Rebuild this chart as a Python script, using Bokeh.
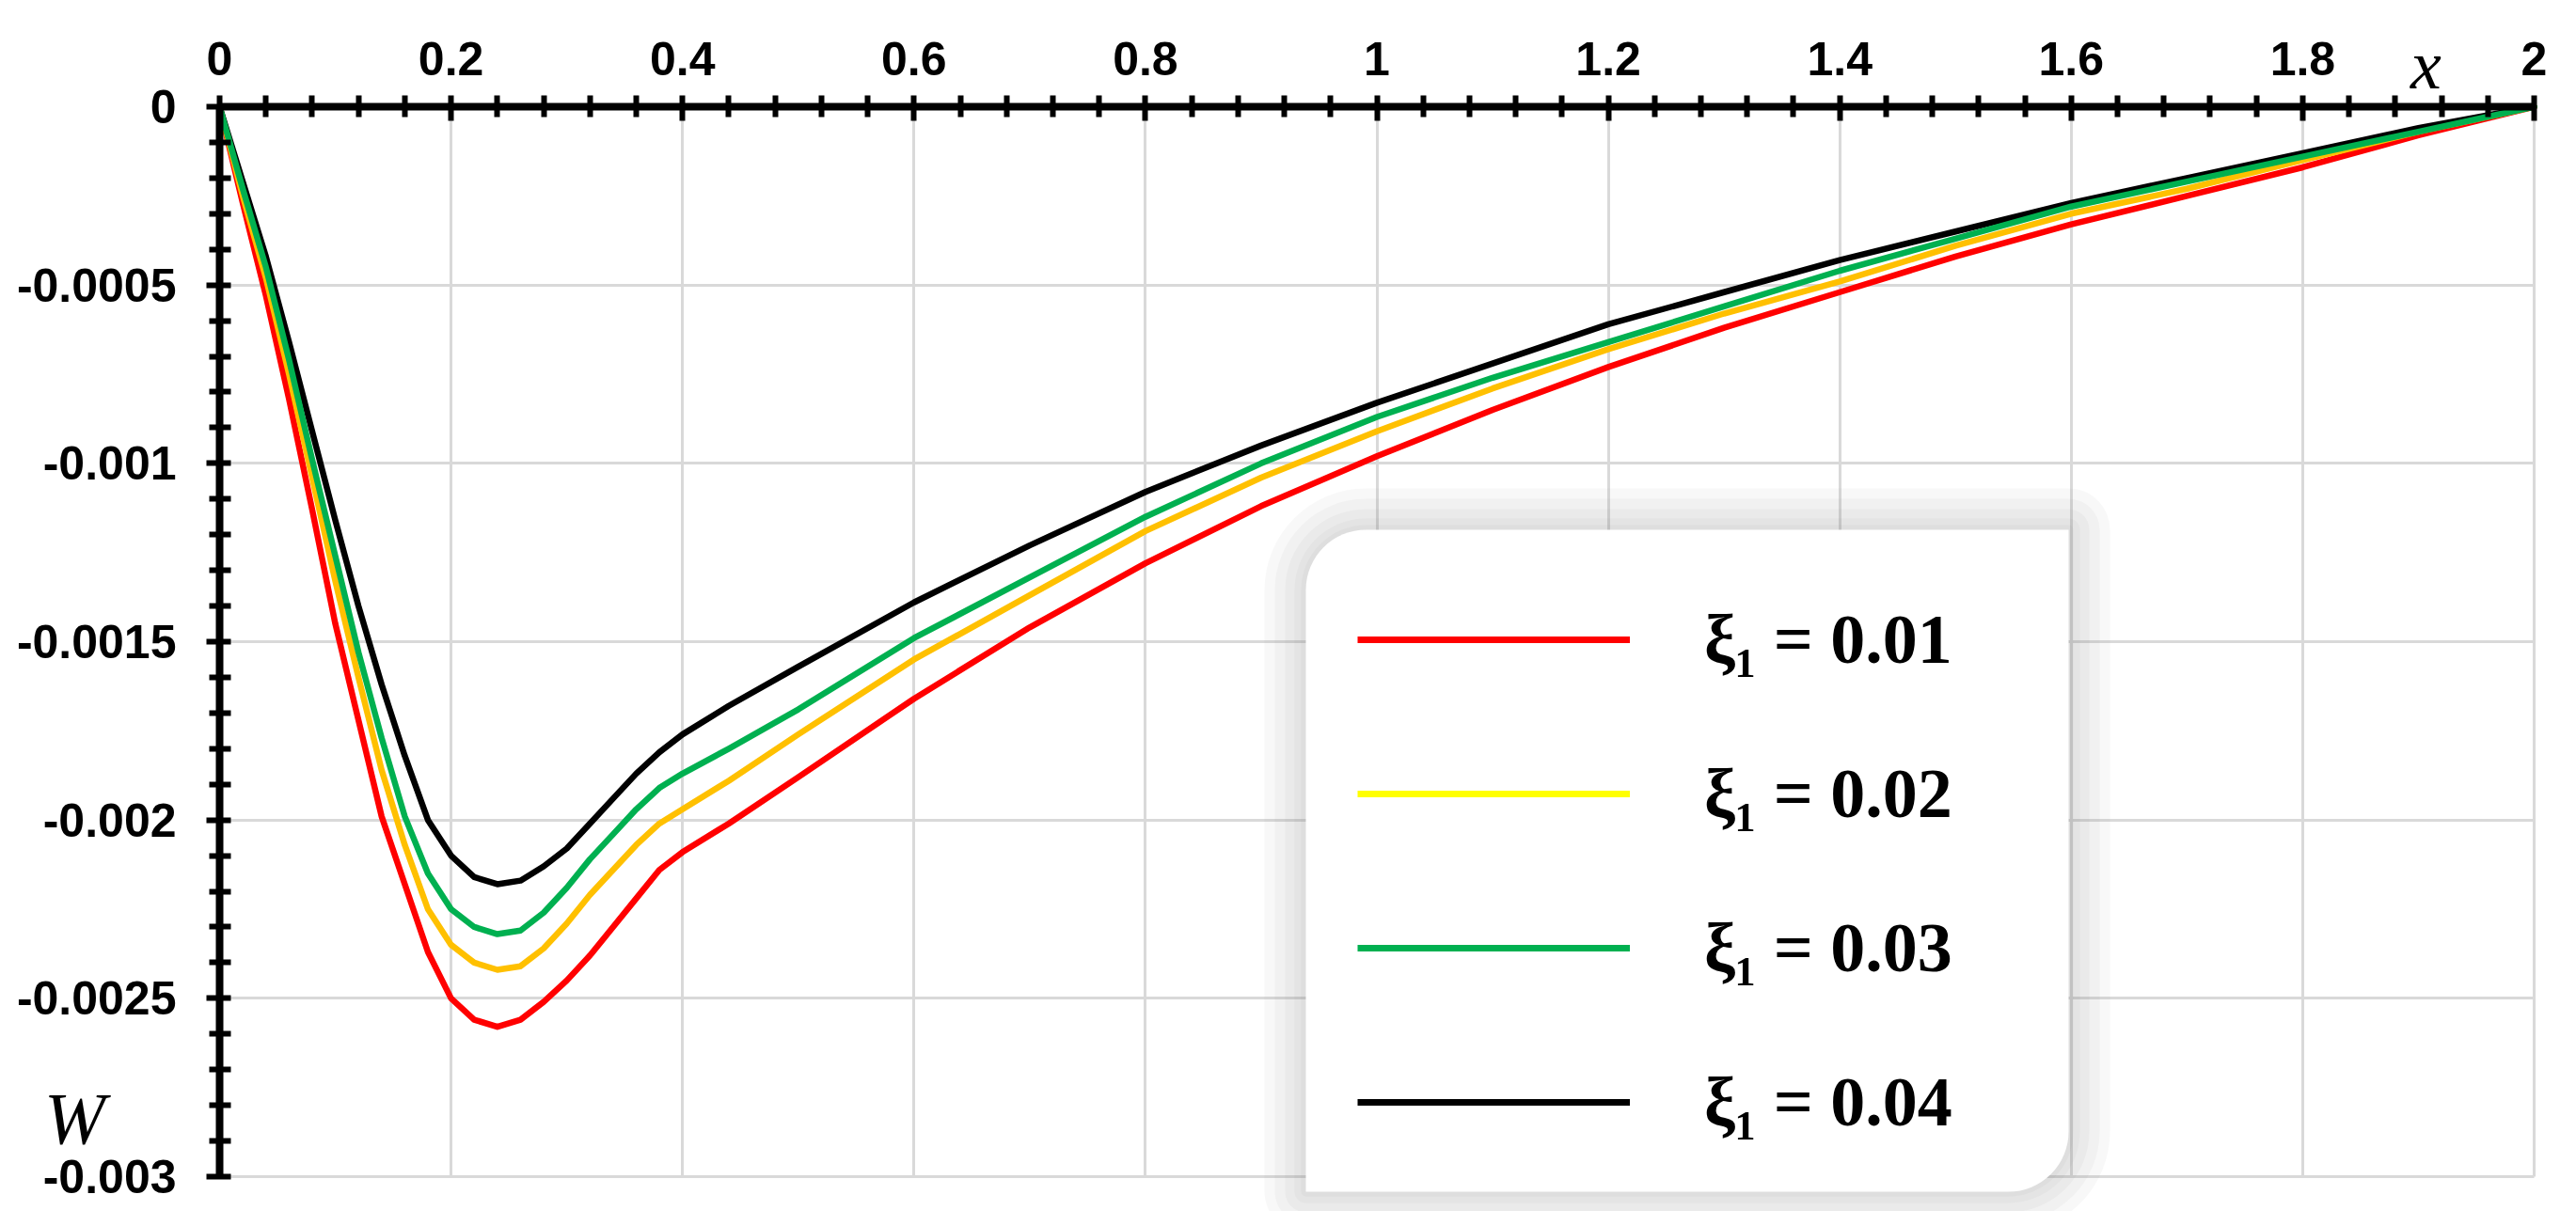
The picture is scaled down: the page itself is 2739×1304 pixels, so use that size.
from bokeh.plotting import figure
from bokeh.models import FixedTicker, Legend, LegendItem, Label, BoxAnnotation
from bokeh.embed import file_html
from bokeh.resources import INLINE

# ---------------- data ----------------
x_vals = [0, 0.02, 0.04, 0.06, 0.08, 0.10, 0.12, 0.14, 0.16, 0.18, 0.20,
          0.22, 0.24, 0.26, 0.28, 0.30, 0.32, 0.34, 0.36, 0.38, 0.40,
          0.44, 0.50, 0.60, 0.70, 0.80, 0.90, 1.00, 1.10, 1.20, 1.30,
          1.40, 1.50, 1.60, 1.70, 1.80, 1.90, 2.00]

w_xi_001 = [0, -0.00027, -0.00053, -0.00082, -0.00113, -0.00145, -0.00172, -0.00199, -0.00218, -0.00237, -0.00250,
            -0.00256, -0.00258, -0.00256, -0.00251, -0.00245, -0.00238, -0.00230, -0.00222, -0.00214, -0.00209,
            -0.00201, -0.00188, -0.00166, -0.00146, -0.00128, -0.00112, -0.00098, -0.00085, -0.00073, -0.00062,
            -0.00052, -0.00042, -0.00033, -0.00025, -0.00017, -0.00008, 0]

w_xi_002 = [0, -0.00025, -0.00048, -0.00075, -0.00104, -0.00133, -0.00160, -0.00186, -0.00207, -0.00225, -0.00235,
            -0.00240, -0.00242, -0.00241, -0.00236, -0.00229, -0.00221, -0.00214, -0.00207, -0.00201, -0.00197,
            -0.00189, -0.00176, -0.00155, -0.00137, -0.00119, -0.00104, -0.00091, -0.00079, -0.00068, -0.00058,
            -0.00049, -0.00039, -0.00030, -0.00023, -0.00015, -0.00007, 0]

w_xi_003 = [0, -0.00023, -0.00045, -0.00071, -0.00099, -0.00126, -0.00153, -0.00177, -0.00199, -0.00215, -0.00225,
            -0.00230, -0.00232, -0.00231, -0.00226, -0.00219, -0.00211, -0.00204, -0.00197, -0.00191, -0.00187,
            -0.00180, -0.00169, -0.00149, -0.00132, -0.00115, -0.00100, -0.00087, -0.00076, -0.00066, -0.00056,
            -0.00046, -0.00037, -0.00028, -0.00021, -0.00014, -0.00007, 0]

w_xi_004 = [0, -0.00021, -0.00042, -0.00066, -0.00091, -0.00116, -0.00140, -0.00162, -0.00182, -0.00200, -0.00210,
            -0.00216, -0.00218, -0.00217, -0.00213, -0.00208, -0.00201, -0.00194, -0.00187, -0.00181, -0.00176,
            -0.00168, -0.00157, -0.00139, -0.00123, -0.00108, -0.00095, -0.00083, -0.00072, -0.00061, -0.00052,
            -0.00043, -0.00035, -0.00027, -0.00020, -0.00013, -0.00006, 0]

series_labels = ["ξ₁ = 0.01", "ξ₁ = 0.02", "ξ₁ = 0.03", "ξ₁ = 0.04"]

x_ticks = [0, 0.2, 0.4, 0.6, 0.8, 1, 1.2, 1.4, 1.6, 1.8, 2]
x_tick_labels = ["0", "0.2", "0.4", "0.6", "0.8", "1", "1.2", "1.4", "1.6", "1.8", "2"]
x_minor = [0.04, 0.08, 0.12, 0.16, 0.24, 0.28, 0.32, 0.36, 0.44, 0.48, 0.52, 0.56,
           0.64, 0.68, 0.72, 0.76, 0.84, 0.88, 0.92, 0.96, 1.04, 1.08, 1.12, 1.16,
           1.24, 1.28, 1.32, 1.36, 1.44, 1.48, 1.52, 1.56, 1.64, 1.68, 1.72, 1.76,
           1.84, 1.88, 1.92, 1.96]
y_ticks = [0, -0.0005, -0.001, -0.0015, -0.002, -0.0025, -0.003]
y_tick_labels = ["0", "-0.0005", "-0.001", "-0.0015", "-0.002", "-0.0025", "-0.003"]
y_minor = [-0.0001, -0.0002, -0.0003, -0.0004, -0.0006, -0.0007, -0.0008, -0.0009,
           -0.0011, -0.0012, -0.0013, -0.0014, -0.0016, -0.0017, -0.0018, -0.0019,
           -0.0021, -0.0022, -0.0023, -0.0024, -0.0026, -0.0027, -0.0028, -0.0029]

x_axis_bounds = (0, 2)
y_axis_bounds = (-0.003, 0)

# ---------------- styles / layout ----------------
plot_colors = ["#FF0000", "#FFC000", "#00B050", "#000000"]
legend_colors = ["#FF0000", "#FFFF00", "#00B050", "#000000"]
tick_font = "Liberation Sans"
math_font = "Liberation Serif"

FIG_W, FIG_H = 2723, 1288
X0_PX, XSPAN_PX = 233, 2461     # where x=0 sits, and the pixel length of x 0..2
Y0_PX, YSPAN_PX = 113, 1138     # where w=0 sits, and the pixel length of w 0..-0.003
xs_per_px = (x_axis_bounds[1] - x_axis_bounds[0]) / XSPAN_PX
ys_per_px = (y_axis_bounds[1] - y_axis_bounds[0]) / YSPAN_PX
x_start = -X0_PX * xs_per_px
x_end = (FIG_W - X0_PX) * xs_per_px
y_end = Y0_PX * ys_per_px
y_start = -(FIG_H - Y0_PX) * ys_per_px


def px_x(sx):
    """screen x (page pixels) -> data x"""
    return (sx - 8 - X0_PX) * xs_per_px


def px_y(sy):
    """screen y (page pixels) -> data y"""
    return -(sy - 8 - Y0_PX) * ys_per_px


p = figure(width=FIG_W, height=FIG_H, x_range=(x_start, x_end), y_range=(y_start, y_end),
           x_axis_location="above", output_backend="svg", toolbar_location=None,
           min_border=0, min_border_left=0, min_border_right=0,
           min_border_top=0, min_border_bottom=0)
p.background_fill_color = "white"
p.border_fill_color = "white"
p.outline_line_color = None

xt = FixedTicker(ticks=x_ticks, minor_ticks=x_minor)
yt = FixedTicker(ticks=y_ticks, minor_ticks=y_minor)
p.xaxis.ticker = xt
p.yaxis.ticker = yt
p.xgrid.ticker = xt
p.ygrid.ticker = yt
p.xaxis.major_label_overrides = dict(zip(x_ticks, x_tick_labels))
p.yaxis.major_label_overrides = dict(zip(y_ticks, y_tick_labels))

# axes cross at the origin of the data, inside the frame
p.xaxis.fixed_location = 0
p.yaxis.fixed_location = 0
p.xaxis.bounds = x_axis_bounds
p.yaxis.bounds = y_axis_bounds

p.xgrid.bounds = x_axis_bounds
p.ygrid.bounds = y_axis_bounds
try:
    p.xgrid.cross_bounds = y_axis_bounds
    p.ygrid.cross_bounds = x_axis_bounds
except Exception:
    pass

for g in (p.xgrid, p.ygrid):
    g.grid_line_color = "#D9D9D9"
    g.grid_line_width = 3

for ax in (p.xaxis, p.yaxis):
    ax.axis_line_color = "black"
    ax.axis_line_width = 8
    ax.major_tick_line_color = "black"
    ax.major_tick_line_width = 6
    ax.minor_tick_line_color = "black"
    ax.minor_tick_line_width = 6
    ax.major_label_text_font = tick_font
    ax.major_label_text_font_style = "bold"
    ax.major_label_text_font_size = "50px"
    ax.major_label_text_color = "black"

p.xaxis.major_tick_out = 12
p.xaxis.major_tick_in = 15
p.xaxis.minor_tick_out = 12
p.xaxis.minor_tick_in = 11
p.xaxis.major_label_standoff = 22

p.yaxis.major_tick_out = 14
p.yaxis.major_tick_in = 12
p.yaxis.minor_tick_out = 11
p.yaxis.minor_tick_in = 12
p.yaxis.major_label_standoff = 32

# curves (drawn in an order that leaves green on top, as in the reference)
series = [w_xi_001, w_xi_002, w_xi_003, w_xi_004]
order = [0, 1, 3, 2]
for i in order:
    p.line(x_vals, series[i], line_color=plot_colors[i], line_width=6.5,
           line_join="round", line_cap="round")

# legend box: rounded diagonal corners and a soft shadow built of layers
box_l, box_r = px_x(1396), px_x(2207)
box_t, box_b = px_y(571), px_y(1275)
for grow in (44, 33, 22, 12, 5):
    sh = BoxAnnotation(left=box_l - grow * xs_per_px, right=box_r + grow * xs_per_px,
                       top=box_t + grow * ys_per_px, bottom=box_b - grow * ys_per_px,
                       fill_color="#7F7F7F", fill_alpha=0.055, line_color=None)
    try:
        sh.border_radius = (64 + grow, grow, 64 + grow, grow)
    except Exception:
        pass
    p.add_layout(sh)
box = BoxAnnotation(left=box_l, right=box_r, top=box_t, bottom=box_b,
                    fill_color="white", fill_alpha=1.0, line_color=None)
try:
    box.border_radius = (64, 0, 64, 0)
except Exception:
    pass
p.add_layout(box)

legend_renderers = []
for col in legend_colors:
    r = p.line(x=[float("nan")], y=[float("nan")], line_color=col, line_width=7)
    legend_renderers.append(r)

legend = Legend(items=[LegendItem(label=lab, renderers=[r])
                       for lab, r in zip(series_labels, legend_renderers)],
                location=(1443, 56), orientation="vertical",
                glyph_width=290, glyph_height=120, label_height=120,
                label_standoff=79, spacing=44, padding=46, margin=0,
                border_line_color=None, background_fill_alpha=0.0,
                label_text_font=math_font, label_text_font_style="bold",
                label_text_font_size="74px", label_text_color="black")
p.add_layout(legend)

# axis titles
p.add_layout(Label(x=px_x(2587), y=px_y(76), text="x", text_font=math_font,
                   text_font_style="italic", text_font_size="74px",
                   text_align="center", text_baseline="alphabetic",
                   text_color="black"))
p.add_layout(Label(x=px_x(87), y=px_y(1197), text="W", text_font=math_font,
                   text_font_style="italic", text_font_size="78px",
                   text_align="center", text_baseline="alphabetic",
                   text_color="black"))

open("out.html", "w").write(file_html(p, INLINE))
